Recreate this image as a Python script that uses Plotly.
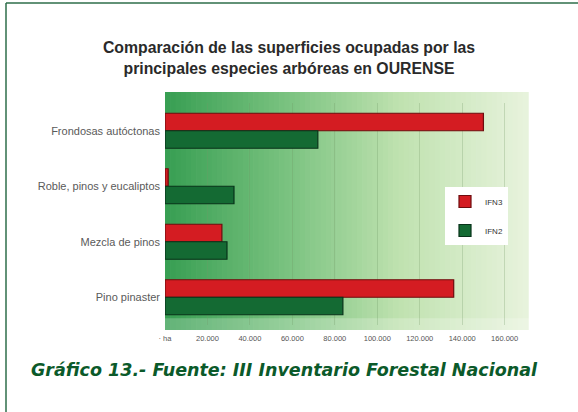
import plotly.graph_objects as go

categories = ["Frondosas autóctonas", "Roble, pinos y eucaliptos", "Mezcla de pinos", "Pino pinaster"]
ifn3 = [150000, 1500, 26800, 136000]
ifn2 = [72000, 32500, 29200, 83800]
tick_vals = [0, 20000, 40000, 60000, 80000, 100000, 120000, 140000, 160000]
tick_text = ["· ha", "20.000", "40.000", "60.000", "80.000", "100.000", "120.000", "140.000", "160.000"]

L, R, T, B = 165, 50, 103, 87
W, H = 578, 412
PW, PH = W - L - R, H - T - B

fig = go.Figure()
fig.add_trace(go.Bar(y=categories, x=ifn3, orientation="h", name="IFN3", legendgroup="a",
                     marker=dict(color="#d41c22", line=dict(color="#6e0c0e", width=1.2))))
fig.add_trace(go.Bar(y=categories, x=ifn2, orientation="h", name="IFN2", legendgroup="b",
                     marker=dict(color="#146a33", line=dict(color="#08331a", width=1.2))))

# gradient background (style only)
stops = [(0.0, (55, 158, 82)), (0.35, (125, 196, 130)), (0.65, (192, 226, 176)), (1.0, (232, 243, 221))]
def col(t):
    for i in range(len(stops) - 1):
        t0, c0 = stops[i]
        t1, c1 = stops[i + 1]
        if t0 <= t <= t1:
            f = (t - t0) / (t1 - t0)
            return "rgb(%d,%d,%d)" % tuple(round(c0[k] + (c1[k] - c0[k]) * f) for k in range(3))
    return "rgb(%d,%d,%d)" % stops[-1][1]

top_ext = 1 + 11 / PH
bot_ext = -5 / PH
shapes = []
n = 70
for i in range(n):
    shapes.append(dict(type="rect", xref="x domain", yref="y domain",
                       x0=i / n, x1=(i + 1) / n + 0.002, y0=bot_ext, y1=top_ext,
                       fillcolor=col((i + 0.5) / n), line=dict(width=0), layer="below"))
# floor strip (3D floor look)
shapes.append(dict(type="rect", xref="x domain", yref="y domain", x0=-0.01, x1=1.01, y0=bot_ext, y1=0.03,
                   fillcolor="rgba(255,255,255,0.22)", line=dict(width=0), layer="below"))
# frame lines (top and left)
shapes.append(dict(type="line", xref="paper", yref="paper", x0=(6 - L) / PW, x1=(W + 5 - L) / PW,
                   y0=(H - B - 3) / PH, y1=(H - B - 3) / PH, line=dict(color="#2e6e4a", width=1.5)))
shapes.append(dict(type="line", xref="paper", yref="paper", x0=(6 - L) / PW, x1=(6 - L) / PW,
                   y0=(H - B - 3) / PH, y1=-(B + 5) / PH, line=dict(color="#2e6e4a", width=1.5)))

fig.update_layout(
    width=W, height=H,
    margin=dict(l=L, r=R, t=T, b=B),
    paper_bgcolor="white", plot_bgcolor="rgba(0,0,0,0)",
    barmode="group", bargap=0.37, bargroupgap=0,
    title=dict(text="<b>Comparación de las superficies ocupadas por las<br>principales especies arbóreas en OURENSE</b>",
               x=0.5, xref="container", xanchor="center", y=1 - 53 / H, yref="container", yanchor="middle",
               font=dict(family="Liberation Sans, Arial", size=15.8, color="#2a2a2a")),
    xaxis=dict(range=[0, 171000], tickvals=tick_vals, ticktext=tick_text,
               showgrid=True, gridcolor="rgba(110,150,100,0.28)", gridwidth=1,
               zeroline=False, showline=False, ticks="", ticklabelstandoff=7,
               tickfont=dict(family="Liberation Sans Narrow, Liberation Sans", size=7.5, color="#555")),
    yaxis=dict(categoryorder="array", categoryarray=categories, autorange="reversed",
               showgrid=False, zeroline=False, showline=False, ticks="", ticklabelstandoff=4,
               tickfont=dict(family="Liberation Sans, Arial", size=11, color="#5a5a5a")),
    legend=dict(x=(445 - L) / PW, y=(H - B - 187) / PH, xanchor="left", yanchor="top", bgcolor="white",
                traceorder="grouped", borderwidth=0, tracegroupgap=10,
                font=dict(family="Liberation Sans, Arial", size=8, color="#333"),
                itemwidth=30),
    shapes=shapes,
    annotations=[dict(text="<b><i>Gráfico 13.- Fuente: III Inventario Forestal Nacional</i></b>",
                      xref="paper", yref="paper", x=(284 - L) / PW, y=(H - B - 370) / PH,
                      xanchor="center", yanchor="middle",
                      showarrow=False, font=dict(family="DejaVu Sans", size=17.5, color="#0b5a2a"))],
)
fig.write_html("out.html", config={"displayModeBar": False},
               post_script="document.body.style.margin='0';")
